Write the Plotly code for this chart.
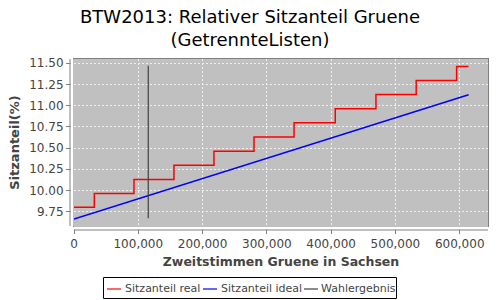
import plotly.graph_objects as go

# Data
red_x = [0, 31600, 93300, 155500, 217700, 280000, 342300, 406400, 469700, 532300, 595200, 613800]
red_y = [9.80, 9.963, 10.13, 10.297, 10.463, 10.63, 10.797, 10.963, 11.13, 11.297, 11.463, 11.463]
blue_x = [0, 613800]
blue_y = [9.663, 11.128]
black_x = [115500, 115500]
black_y = [9.67, 11.47]
x_ticks = [0, 100000, 200000, 300000, 400000, 500000, 600000]
y_ticks = [9.75, 10.00, 10.25, 10.50, 10.75, 11.00, 11.25, 11.50]
series_names = ["Sitzanteil real", "Sitzanteil ideal", "Wahlergebnis"]
series_colors = ["#FF0000", "#0000FF", "#404040"]

FONT = "DejaVu Sans"

W, H = 500, 300
L, R, T, B = 74, 12, 59, 74
pw = W - L - R
ph = H - T - B


def px(x):
    return (x - L) / pw


def py(y):
    return (H - B - y) / ph


fig = go.Figure()
fig.add_trace(go.Scatter(x=red_x, y=red_y, mode="lines",
                         line=dict(color=series_colors[0], width=1.5, shape="hv"),
                         name=series_names[0]))
fig.add_trace(go.Scatter(x=blue_x, y=blue_y, mode="lines",
                         line=dict(color=series_colors[1], width=1.5),
                         name=series_names[1]))
fig.add_trace(go.Scatter(x=black_x, y=black_y, mode="lines",
                         line=dict(color=series_colors[2], width=1.2),
                         name=series_names[2]))

fig.update_layout(
    width=W, height=H,
    margin=dict(l=L, r=R, t=T, b=B, autoexpand=False),
    paper_bgcolor="white",
    plot_bgcolor="#C0C0C0",
    font=dict(family=FONT, size=12, color="#444444"),
    showlegend=False,
    xaxis=dict(range=[0, 644000], tickvals=x_ticks, tickformat=",d",
               showgrid=True, gridcolor="#F0F0F0", griddash="2px,2px", gridwidth=1,
               showline=True, mirror=True, linecolor="#808080", linewidth=1,
               ticks="outside", ticklen=7, tickcolor="#808080",
               zeroline=False,
               title=dict(text="<b>Zweitstimmen Gruene in Sachsen</b>", standoff=6,
                          font=dict(size=12.5, color="#444444")),
               tickfont=dict(size=12, color="#444444")),
    yaxis=dict(range=[9.58, 11.55], tickvals=y_ticks, tickformat=".2f",
               showgrid=True, gridcolor="#F0F0F0", griddash="2px,2px", gridwidth=1,
               showline=True, mirror=True, linecolor="#808080", linewidth=1,
               ticks="outside", ticklen=7, tickcolor="#808080",
               zeroline=False,
               title=dict(text="<b>Sitzanteil(%)</b>", standoff=6,
                          font=dict(size=13, color="#444444")),
               tickfont=dict(size=12, color="#444444")),
)

# title
fig.add_annotation(text="BTW2013: Relativer Sitzanteil Gruene<br>(GetrennteListen)",
                   xref="paper", yref="paper", x=px(250), y=py(4), xanchor="center", yanchor="top",
                   showarrow=False, align="center",
                   font=dict(family=FONT, size=18, color="#000000"))

# offset axis lines
dx = 4 / pw
dy = 4 / ph
fig.add_shape(type="line", xref="paper", yref="paper", x0=-dx * 0.5, x1=-dx * 0.5, y0=0, y1=1,
              line=dict(color="white", width=3), layer="above")
fig.add_shape(type="line", xref="paper", yref="paper", x0=0, x1=1, y0=-dy * 0.5, y1=-dy * 0.5,
              line=dict(color="white", width=3), layer="above")
fig.add_shape(type="line", xref="paper", yref="paper", x0=-dx, x1=-dx, y0=0, y1=1,
              line=dict(color="#808080", width=1), layer="above")
fig.add_shape(type="line", xref="paper", yref="paper", x0=0, x1=1, y0=-dy, y1=-dy,
              line=dict(color="#808080", width=1), layer="above")

# custom legend
fig.add_shape(type="rect", xref="paper", yref="paper", x0=px(103.5), x1=px(396.5), y0=py(277.5), y1=py(298.5),
              line=dict(color="#000000", width=1), fillcolor="white")
line_starts = [107, 203, 304]
text_starts = [123, 219, 319]
for name, col, ls, ts in zip(series_names, series_colors, line_starts, text_starts):
    fig.add_shape(type="line", xref="paper", yref="paper", x0=px(ls), x1=px(ls + 14), y0=py(289), y1=py(289),
                  line=dict(color=col, width=1.2))
    fig.add_annotation(text=name, xref="paper", yref="paper", x=px(ts), y=py(288.5),
                       xanchor="left", yanchor="middle", showarrow=False,
                       font=dict(family=FONT, size=11, color="#444444"))

fig.write_html("out.html")
